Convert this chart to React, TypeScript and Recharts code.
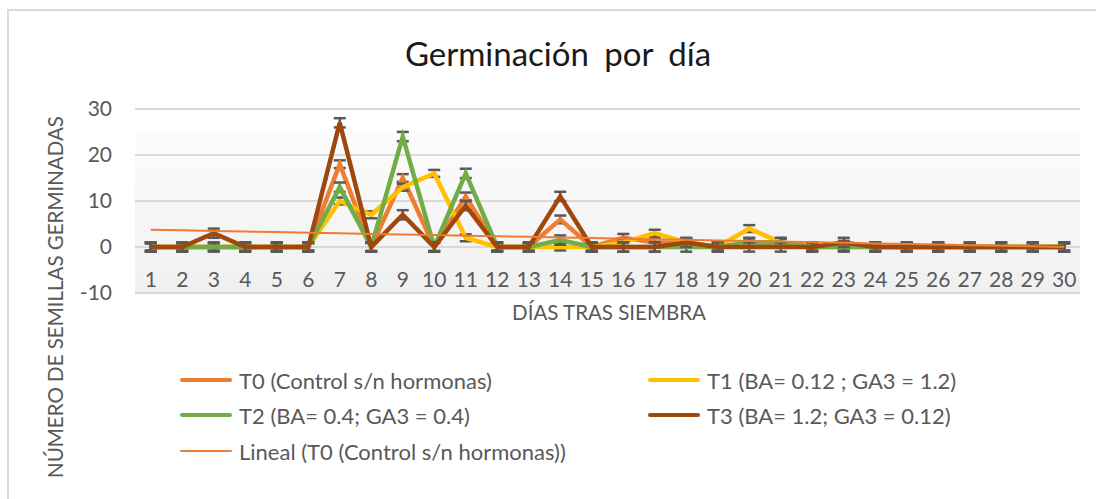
import { ComposedChart, Line, XAxis, YAxis, CartesianGrid, ErrorBar } from 'recharts'

const DAYS = [1, 2, 3, 4, 5, 6, 7, 8, 9, 10, 11, 12, 13, 14, 15, 16, 17, 18, 19, 20, 21, 22, 23, 24, 25, 26, 27, 28, 29, 30]

// Semillas germinadas por día, por tratamiento
const T0 = [0, 0, 0, 0, 0, 0, 18, 0, 15, 0, 11, 0, 0, 6, 0, 2, 1, 1, 0, 1, 1, 0, 0.5, 0, 0, 0, 0, 0, 0, 0]
const T1 = [0, 0, 0, 0, 0, 0, 10, 7, 13, 16, 2, 0, 0, 0, 0, 1, 3, 1, 0, 4, 1, 0, 0, 0, 0, 0, 0, 0, 0, 0]
const T2 = [0, 0, 0, 0, 0, 0, 13, 0, 24, 0, 16, 0, 0, 1.5, 0, 0, 0, 0, 0, 1, 1, 0, 0, 0, 0, 0, 0, 0, 0, 0]
const T3 = [0, 0, 3, 0, 0, 0, 27, 0, 7, 0, 9, 0, 0, 11, 0, 0, 0, 1, 0, 0, 0, 0, 1, 0, 0, 0, 0, 0, 0, 0]

const Y_TICKS = [-10, 0, 10, 20, 30]

const SERIES = [
  { key: 'T0', name: 'T0 (Control s/n hormonas)', color: '#ED7D31' },
  { key: 'T1', name: 'T1 (BA= 0.12 ; GA3 = 1.2)', color: '#FFC000' },
  { key: 'T2', name: 'T2 (BA= 0.4; GA3 = 0.4)', color: '#70AD47' },
  { key: 'T3', name: 'T3 (BA= 1.2; GA3 = 0.12)', color: '#9E480E' },
]

// error estándar de la serie (como las barras de error de Excel)
const stdErr = (v: number[]) => {
  const m = v.reduce((a, b) => a + b, 0) / v.length
  const s = Math.sqrt(v.reduce((a, b) => a + (b - m) ** 2, 0) / (v.length - 1))
  return s / Math.sqrt(v.length)
}

// tendencia lineal de T0
const linearFit = (xs: number[], ys: number[]) => {
  const n = xs.length
  const mx = xs.reduce((a, b) => a + b, 0) / n
  const my = ys.reduce((a, b) => a + b, 0) / n
  let sxy = 0
  let sxx = 0
  xs.forEach((x, i) => {
    sxy += (x - mx) * (ys[i] - my)
    sxx += (x - mx) ** 2
  })
  const b = sxy / sxx
  return xs.map((x) => my + b * (x - mx))
}

const trend = linearFit(DAYS, T0)
const errs = [T0, T1, T2, T3].map(stdErr)

const data = DAYS.map((d, i) => ({
  day: d,
  T0: T0[i],
  T1: T1[i],
  T2: T2[i],
  T3: T3[i],
  e0: errs[0],
  e1: errs[1],
  e2: errs[2],
  e3: errs[3],
  trend: trend[i],
}))

const FONT = 'Lato, "Liberation Sans", sans-serif'
const GREY = '#595959'

const DayTick = (props: any) => {
  const { x, y, payload } = props
  return (
    <text x={x} y={y - 15} textAnchor="middle" dominantBaseline="central" fill={GREY} fontSize={21} fontFamily={FONT}>
      {payload.value}
    </text>
  )
}

const LegendItem = ({ x, y, color, label, thin }: { x: number; y: number; color: string; label: string; thin?: boolean }) => (
  <div style={{ position: 'absolute', left: x, top: y - 14, height: 28, display: 'flex', alignItems: 'center' }}>
    <div style={{ width: 52, height: thin ? 2 : 4, background: color, borderRadius: 2, marginRight: 7 }} />
    <span style={{ fontSize: 22, color: GREY, whiteSpace: 'nowrap' }}>{label}</span>
  </div>
)

export default function App() {
  return (
    <div style={{ position: 'absolute', left: 0, top: 0, width: 1096, height: 499, overflow: 'hidden', background: '#fff', fontFamily: FONT }}>
      <div style={{ position: 'absolute', left: 7, top: 9, right: -10, bottom: -10, border: '2px solid #d9d9d9' }} />

      <div style={{ position: 'absolute', left: 0, width: 1116, top: 33, textAlign: 'center', fontSize: 33, color: '#1a1a1a', wordSpacing: 7 }}>
        Germinación por día
      </div>

      <ComposedChart width={1096} height={499} data={data} margin={{ top: 109, right: 16, bottom: 176, left: 0 }} style={{ position: 'absolute', left: 0, top: 0 }}>
        <defs>
          <linearGradient id="plotBg" x1="0" y1="0" x2="0" y2="1">
            <stop offset="0" stopColor="#ffffff" />
            <stop offset="0.11" stopColor="#ffffff" />
            <stop offset="0.12" stopColor="#fcfcfc" />
            <stop offset="1" stopColor="#f0f0f0" />
          </linearGradient>
        </defs>
        <CartesianGrid vertical={false} stroke="#d9d9d9" strokeWidth={2} fill="url(#plotBg)" />
        <XAxis
          dataKey="day"
          axisLine={false}
          tickLine={false}
          tickSize={0}
          tickMargin={0}
          height={30}
          interval={0}
          padding={{ left: 15.75, right: 15.75 }}
          tick={DayTick}
        />
        <YAxis
          domain={[-10, 30]}
          ticks={Y_TICKS}
          width={135}
          axisLine={false}
          tickLine={false}
          tickSize={0}
          tickMargin={23}
          tick={{ fill: GREY, fontSize: 21, fontFamily: FONT }}
        />
        {SERIES.map((s, i) => (
          <Line key={s.key} type="linear" dataKey={s.key} name={s.name} stroke={s.color} strokeWidth={4.5} dot={false} activeDot={false} isAnimationActive={false}>
            <ErrorBar dataKey={`e${i}`} width={6} stroke={GREY} strokeWidth={2.5} direction="y" />
          </Line>
        ))}
        <Line type="linear" dataKey="trend" stroke="#ED7D31" strokeWidth={2} dot={false} activeDot={false} isAnimationActive={false} />
      </ComposedChart>

      <div style={{ position: 'absolute', left: 409, width: 400, top: 300, textAlign: 'center', fontSize: 20.5, color: GREY, whiteSpace: 'nowrap' }}>
        DÍAS TRAS SIEMBRA
      </div>
      <div
        style={{
          position: 'absolute',
          left: 55,
          top: 297,
          transform: 'translate(-50%, -50%) rotate(-90deg)',
          fontSize: 20.5,
          color: GREY,
          whiteSpace: 'nowrap',
        }}
      >
        NÚMERO DE SEMILLAS GERMINADAS
      </div>

      <LegendItem x={180} y={380} color={SERIES[0].color} label={SERIES[0].name} />
      <LegendItem x={648} y={380} color={SERIES[1].color} label={SERIES[1].name} />
      <LegendItem x={180} y={415} color={SERIES[2].color} label={SERIES[2].name} />
      <LegendItem x={648} y={415} color={SERIES[3].color} label={SERIES[3].name} />
      <LegendItem x={180} y={451} color="#ED7D31" label="Lineal (T0 (Control s/n hormonas))" thin />
    </div>
  )
}
